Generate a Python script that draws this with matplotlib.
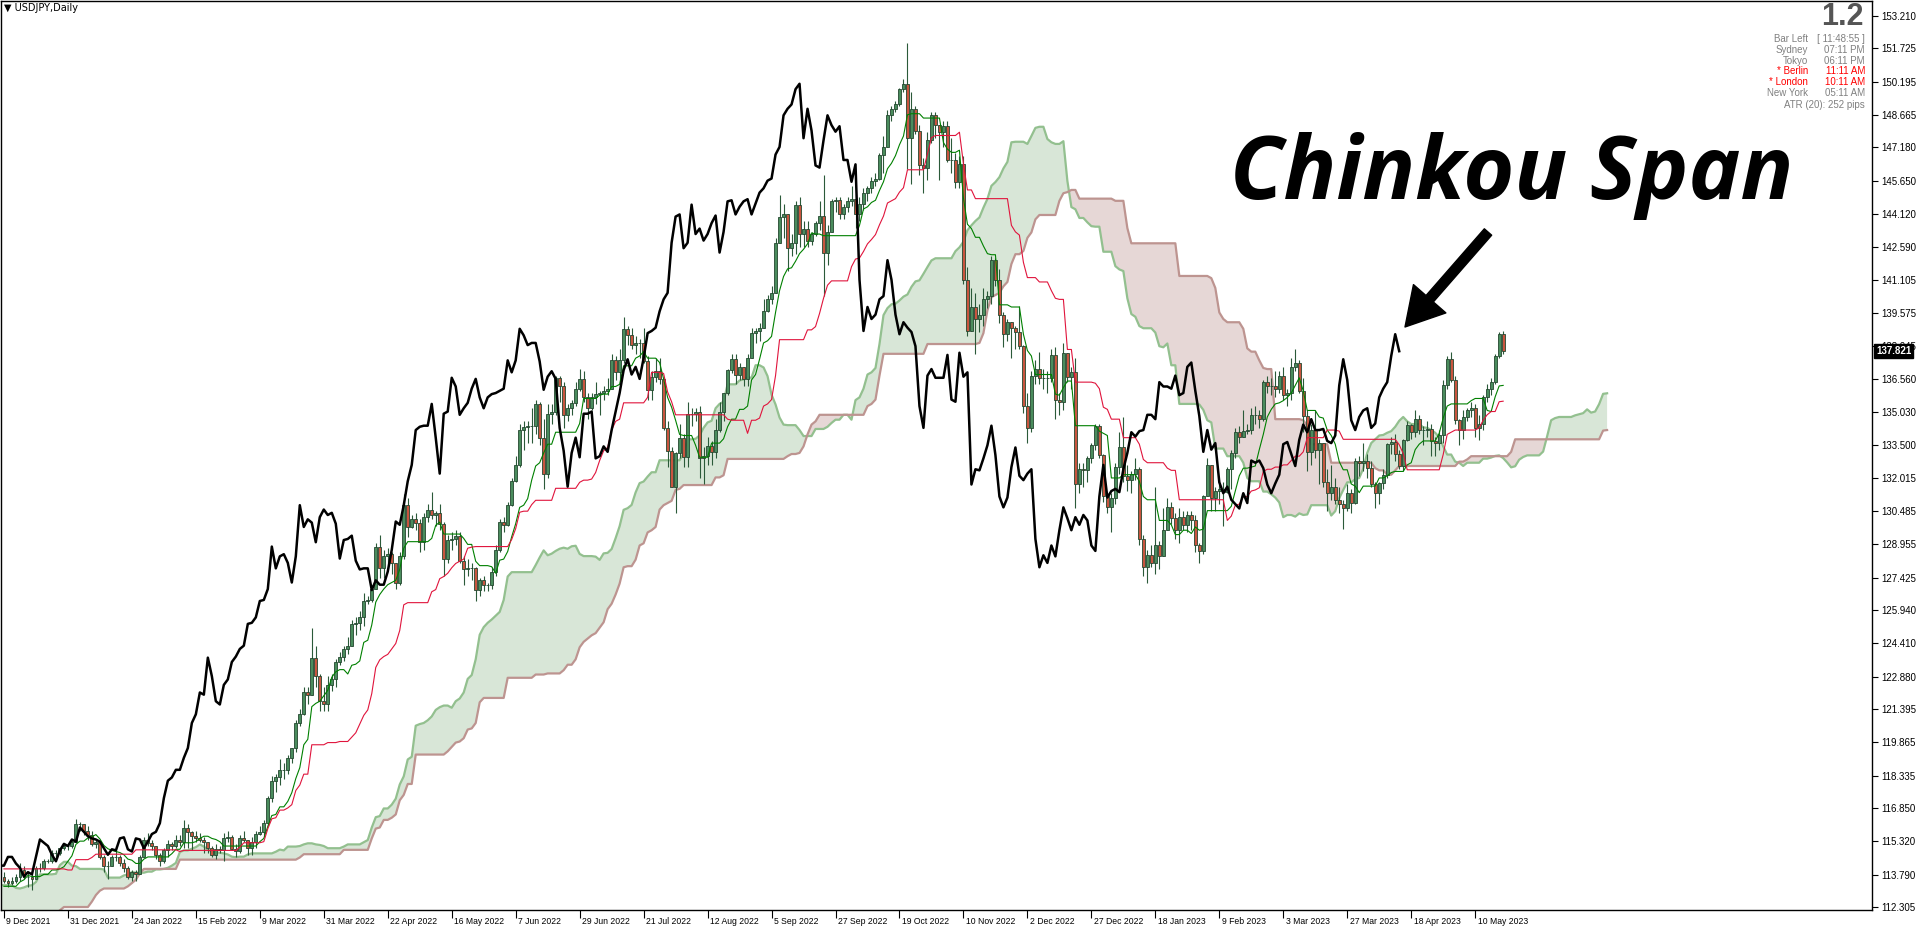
import numpy as np
import pandas as pd
import matplotlib
matplotlib.use("Agg")
import matplotlib.pyplot as plt
import matplotlib.transforms as mtransforms

# USDJPY daily, bars before the visible window (23 Aug 2021 - 8 Dec 2021), needed for the cloud
hist_close = [109.7, 109.7, 110.0, 110.1, 109.8, 109.9, 110.0,
              110.0, 109.9, 109.7, 109.8, 110.3, 110.2, 109.7, 109.9, 110.0, 109.7, 109.4,
              109.7, 109.9, 109.4, 109.2, 109.8, 110.3, 110.7, 111.0, 111.5, 112.0, 111.3,
              111.0, 110.9, 111.4, 111.4, 111.6, 112.2, 113.3, 113.6, 113.2, 113.7, 114.2,
              114.3, 114.4, 114.3, 114.0, 113.5, 113.7, 114.1, 113.8, 113.6, 114.0,
              114.0, 113.9, 114.1, 113.7, 113.4, 112.9, 112.9, 113.9, 114.1, 113.9, 114.1,
              114.8, 114.1, 114.3, 114.0, 114.8, 115.1, 115.4, 115.4, 113.4, 113.6, 113.2,
              113.0, 113.2, 112.8, 113.5, 113.5, 113.7]
hist_high = [110.0, 109.9, 110.1, 110.2, 110.3, 110.0, 110.2,
             110.3, 110.1, 110.0, 109.9, 110.4, 110.4, 110.2, 110.0, 110.1, 110.2, 109.8,
             109.8, 110.1, 110.0, 109.6, 109.9, 110.4, 110.8, 111.1, 111.7, 112.1, 112.1,
             111.5, 111.1, 111.5, 111.8, 111.8, 112.3, 113.4, 113.8, 113.7, 113.8, 114.3,
             114.5, 114.5, 114.7, 114.4, 114.2, 113.9, 114.3, 114.2, 113.9, 114.0,
             114.4, 114.2, 114.2, 114.2, 113.9, 113.5, 113.1, 114.0, 114.2, 114.2, 114.2,
             114.9, 114.9, 114.5, 114.5, 114.9, 115.2, 115.5, 115.5, 115.4, 113.9, 113.9,
             113.4, 113.3, 113.4, 113.6, 113.8, 113.9]
hist_low = [109.4, 109.5, 109.6, 109.8, 109.6, 109.6, 109.7,
            109.8, 109.7, 109.6, 109.6, 109.8, 110.0, 109.6, 109.6, 109.8, 109.6, 109.1,
            109.3, 109.7, 109.1, 109.1, 109.1, 109.6, 110.2, 110.6, 110.9, 111.4, 111.2,
            110.8, 110.8, 110.8, 111.0, 111.3, 111.6, 112.2, 113.2, 113.1, 113.1, 113.7,
            113.9, 114.1, 114.0, 113.7, 113.4, 113.4, 113.6, 113.5, 113.3, 113.4,
            113.9, 113.6, 113.7, 113.6, 113.3, 112.8, 112.7, 112.8, 113.8, 113.8, 113.8,
            114.0, 114.0, 113.9, 113.8, 113.9, 114.8, 115.0, 115.3, 113.1, 113.0, 112.6,
            112.8, 112.7, 112.6, 112.8, 113.3, 113.3]

# visible bars, 9 Dec 2021 - 19 May 2023 (one line = 16 bars = one date label)
close = [113.5, 113.4, 113.5, 113.7, 114.0, 113.7, 113.7, 113.6, 114.1, 114.1, 114.4, 114.4, 114.8, 114.8, 115.0, 115.1,
         115.1, 115.3, 116.1, 116.1, 115.8, 115.6, 115.2, 115.3, 114.6, 114.2, 114.2, 114.6, 114.6, 114.3, 114.1, 113.7,
         113.9, 113.8, 114.6, 115.4, 115.25, 115.1, 114.7, 114.4, 114.9, 115.2, 115.1, 115.4, 115.3, 115.95, 115.75, 115.55,
         115.45, 115.4, 115.3, 115.0, 114.7, 114.95, 114.9, 115.45, 115.5, 114.95, 114.85, 115.45, 115.4, 115.0, 115.3, 115.65,
         115.75, 116.15, 117.3, 118.1, 118.25, 118.6, 118.6, 119.15, 119.6, 120.75, 121.15, 122.15, 122.05, 123.75, 122.9, 121.75,
         121.6, 122.5, 122.75, 123.55, 123.8, 124.15, 124.3, 125.3, 125.35, 125.6, 126.35, 126.4, 126.9, 128.85, 127.85, 128.4,
         128.5, 128.1, 127.2, 128.4, 130.75, 129.75, 130.1, 129.95, 129.05, 130.2, 130.55, 130.3, 130.4, 129.9, 128.3, 129.15,
         129.2, 129.35, 128.2, 127.8, 127.85, 127.85, 126.85, 127.3, 127.1, 127.1, 127.7, 128.7, 130.0, 129.85, 130.75, 131.85,
         132.6, 134.2, 134.35, 134.4, 134.4, 135.4, 133.85, 132.2, 134.95, 135.05, 136.6, 136.2, 134.9, 135.2, 135.45, 136.1,
         136.55, 135.7, 135.2, 135.7, 135.85, 135.9, 136.0, 136.1, 137.4, 136.85, 137.4, 138.85, 138.55, 138.1, 138.2, 138.2,
         137.35, 136.05, 136.65, 136.9, 136.55, 134.3, 133.25, 131.6, 133.15, 133.85, 132.95, 134.95, 134.95, 135.05, 132.9, 133.0,
         133.45, 133.2, 134.2, 135.05, 135.9, 136.95, 137.45, 136.75, 137.1, 136.55, 137.5, 138.65, 138.75, 138.9, 139.65, 140.2,
         140.5, 142.8, 144.0, 144.1, 142.55, 142.8, 144.55, 143.2, 143.45, 142.9, 143.2, 143.7, 144.05, 142.35, 143.3, 144.7,
         144.75, 144.1, 144.45, 144.7, 144.8, 144.1, 144.6, 145.1, 145.3, 145.65, 145.75, 146.85, 147.2, 148.65, 148.95, 149.15,
         149.85, 150.1, 147.6, 148.95, 147.95, 146.35, 146.25, 147.5, 148.65, 148.2, 147.9, 148.15, 146.6, 146.6, 145.6, 146.4,
         141.1, 138.75, 139.85, 139.3, 139.5, 140.2, 140.35, 142.0, 141.1, 139.5, 138.6, 139.15, 138.9, 138.7, 138.05, 135.3,
         134.3, 136.7, 137.0, 136.6, 136.6, 136.6, 137.65, 135.6, 135.5, 137.75, 136.65, 136.85, 131.7, 132.4, 132.35, 132.9,
         133.5, 134.4, 133.05, 131.15, 130.65, 131.1, 132.5, 133.4, 132.1, 131.9, 132.2, 132.4, 129.2, 127.9, 128.45, 128.1,
         128.9, 128.4, 129.6, 130.65, 130.15, 129.6, 130.2, 129.85, 130.3, 130.05, 128.9, 128.65, 131.15, 132.6, 131.1, 131.4,
         131.5, 131.35, 132.4, 133.15, 134.1, 133.9, 134.15, 134.2, 134.9, 134.9, 134.7, 136.4, 136.2, 136.2, 136.1, 136.7,
         135.8, 135.9, 137.1, 137.3, 136.0, 134.85, 133.2, 134.2, 133.3, 133.6, 131.8, 131.3, 131.6, 131.0, 130.8, 130.6,
         131.3, 130.85, 132.8, 132.7, 132.8, 132.45, 131.7, 131.3, 131.75, 132.15, 133.55, 133.65, 133.1, 132.55, 133.75, 134.45,
         134.1, 134.7, 134.2, 134.2, 134.25, 133.7, 133.6, 133.95, 136.25, 137.45, 136.5, 134.65, 134.2, 134.8, 135.1, 135.2,
         134.3, 134.5, 135.7, 136.1, 136.4, 137.6, 138.6, 137.821]
high = [113.9, 113.6, 113.7, 113.8, 114.3, 114.2, 113.9, 113.8, 114.2, 114.3, 114.5, 114.5, 114.9, 114.9, 115.0, 115.2,
        115.2, 115.4, 116.35, 116.2, 116.1, 116.0, 115.8, 115.4, 115.4, 114.7, 114.4, 114.7, 115.1, 114.7, 114.5, 114.2,
        114.0, 114.0, 114.7, 115.5, 115.7, 115.4, 115.1, 114.8, 115.0, 115.4, 115.3, 115.6, 115.6, 116.3, 116.1, 115.8,
        115.8, 115.7, 115.5, 115.3, 115.1, 115.2, 115.1, 115.7, 115.8, 115.6, 115.2, 115.6, 115.8, 115.4, 115.5, 115.8,
        116.0, 116.3, 117.4, 118.3, 118.4, 119.1, 118.9, 119.3, 119.6, 120.9, 121.4, 122.4, 122.4, 125.1, 124.3, 123.0,
        122.4, 122.9, 123.0, 123.7, 124.0, 124.3, 124.7, 125.5, 125.6, 125.9, 126.7, 126.6, 127.1, 129.0, 129.4, 128.7,
        128.8, 128.6, 128.1, 128.6, 131.25, 131.1, 130.3, 130.4, 130.1, 130.4, 130.8, 131.35, 130.5, 130.8, 130.0, 129.4,
        129.5, 129.6, 129.5, 128.4, 128.3, 128.1, 127.9, 127.4, 127.5, 127.2, 127.9, 128.9, 130.1, 130.2, 130.9, 132.0,
        133.0, 134.5, 134.6, 134.6, 135.2, 135.6, 135.5, 134.7, 135.4, 135.4, 136.7, 136.7, 136.4, 135.4, 135.6, 136.4,
        137.0, 136.9, 135.9, 135.9, 136.4, 136.0, 136.2, 136.6, 137.7, 137.6, 137.9, 139.4, 139.0, 138.9, 138.5, 138.4,
        138.9, 137.6, 136.9, 137.5, 137.5, 136.6, 134.6, 133.4, 133.2, 134.5, 134.0, 135.5, 135.2, 135.2, 135.3, 133.4,
        133.9, 133.7, 134.7, 135.5, 135.9, 137.0, 137.7, 137.7, 137.3, 137.1, 137.7, 138.9, 138.9, 139.1, 140.2, 140.4,
        140.8, 143.0, 145.0, 144.6, 144.0, 143.2, 144.7, 144.9, 143.8, 143.8, 143.3, 143.8, 144.7, 145.9, 143.6, 144.8,
        144.9, 144.9, 144.6, 144.9, 145.4, 145.0, 144.9, 145.3, 145.4, 145.8, 146.0, 146.9, 147.7, 148.9, 149.1, 149.3,
        149.9, 150.3, 151.95, 149.7, 149.1, 148.2, 146.7, 147.9, 148.8, 148.8, 148.1, 148.4, 148.4, 147.6, 146.9, 146.8,
        146.8, 141.7, 140.7, 140.5, 140.0, 140.7, 140.6, 142.2, 142.1, 141.6, 139.6, 139.3, 139.1, 139.0, 139.9, 138.1,
        135.9, 136.9, 137.4, 137.8, 137.0, 136.9, 137.9, 138.0, 135.9, 138.2, 137.7, 137.1, 137.5, 132.7, 132.7, 133.0,
        133.6, 134.5, 134.5, 133.1, 131.2, 131.3, 132.7, 134.1, 134.8, 132.6, 132.3, 132.9, 132.5, 129.4, 128.7, 128.9,
        131.6, 129.1, 130.6, 131.1, 130.9, 130.4, 130.6, 130.5, 130.5, 130.5, 130.3, 129.0, 131.2, 132.9, 132.6, 131.6,
        131.9, 131.8, 132.5, 133.3, 134.3, 134.4, 135.1, 134.5, 135.2, 135.3, 135.1, 136.5, 136.7, 136.6, 136.9, 136.9,
        137.1, 136.1, 137.5, 137.9, 137.4, 136.6, 135.1, 134.5, 135.1, 133.8, 133.6, 132.4, 132.6, 132.0, 131.6, 131.0,
        131.7, 131.5, 132.9, 133.0, 133.6, 133.1, 132.8, 131.8, 131.8, 132.4, 133.6, 133.9, 134.0, 133.3, 133.8, 134.6,
        134.5, 135.1, 134.9, 134.4, 134.6, 134.5, 133.9, 134.2, 136.5, 137.6, 137.8, 136.7, 134.7, 135.1, 135.2, 135.5,
        135.4, 134.9, 135.8, 136.3, 136.6, 137.7, 138.7, 138.75]
low = [113.4, 113.2, 113.3, 113.4, 113.5, 113.6, 113.2, 113.1, 113.6, 113.9, 114.0, 114.3, 114.3, 114.6, 114.7, 114.9,
       114.9, 115.0, 115.3, 115.8, 115.6, 115.4, 115.1, 115.0, 114.5, 113.9, 113.6, 114.2, 114.4, 114.2, 113.9, 113.6,
       113.5, 113.5, 113.8, 114.6, 115.1, 114.9, 114.5, 114.2, 114.3, 114.6, 114.9, 115.0, 115.1, 115.0, 115.0, 114.9,
       115.3, 115.3, 114.8, 114.8, 114.6, 114.5, 114.8, 114.4, 115.3, 114.9, 114.6, 114.8, 115.3, 114.7, 114.7, 115.0,
       115.6, 115.5, 116.0, 117.1, 117.6, 117.9, 118.2, 118.4, 118.9, 119.4, 120.6, 121.1, 121.6, 122.1, 122.4, 121.3,
       121.3, 121.3, 122.2, 122.4, 123.4, 123.6, 123.9, 124.4, 124.8, 125.0, 125.2, 126.2, 126.3, 126.9, 127.4, 127.4,
       127.8, 127.6, 126.9, 127.1, 128.3, 129.3, 129.7, 129.6, 128.6, 128.7, 130.0, 130.1, 129.8, 129.6, 127.5, 128.1,
       128.7, 128.9, 128.1, 127.1, 127.5, 127.3, 126.35, 126.6, 126.8, 126.8, 126.9, 127.5, 128.6, 129.5, 129.8, 130.7,
       131.8, 132.5, 133.3, 133.6, 133.6, 134.0, 133.5, 131.5, 132.0, 134.5, 134.9, 135.5, 134.3, 134.6, 134.9, 135.3,
       136.0, 135.5, 134.7, 135.1, 135.4, 134.9, 135.6, 135.8, 136.2, 136.5, 136.4, 137.3, 138.1, 137.9, 137.7, 137.5,
       137.3, 135.6, 135.6, 136.4, 136.3, 134.2, 132.5, 131.6, 130.4, 132.9, 132.5, 132.5, 134.4, 134.6, 132.0, 131.7,
       132.6, 132.6, 132.9, 134.1, 134.6, 135.8, 136.8, 136.3, 136.5, 136.2, 136.2, 137.5, 138.2, 138.3, 138.9, 139.6,
       140.0, 140.5, 142.8, 143.0, 141.5, 142.2, 142.3, 142.6, 142.6, 142.6, 142.7, 143.1, 143.4, 140.35, 141.8, 143.3,
       144.2, 143.9, 143.9, 144.2, 144.5, 143.5, 143.8, 144.3, 144.7, 145.1, 145.4, 145.7, 146.0, 147.2, 148.4, 148.8,
       149.1, 149.7, 146.2, 145.5, 147.8, 145.9, 145.1, 145.7, 147.4, 147.6, 145.7, 147.2, 146.5, 146.0, 145.3, 145.3,
       140.9, 138.5, 138.8, 137.7, 138.7, 139.0, 139.8, 140.0, 140.8, 139.1, 138.0, 138.3, 137.5, 137.9, 137.9, 135.0,
       133.6, 134.1, 136.3, 136.3, 136.1, 135.9, 136.4, 134.7, 134.9, 135.1, 136.4, 136.1, 130.6, 131.3, 131.6, 131.8,
       132.7, 133.3, 132.9, 130.9, 130.4, 129.5, 130.8, 132.2, 131.8, 131.4, 131.3, 131.9, 128.9, 127.5, 127.2, 127.9,
       127.6, 127.8, 128.4, 129.6, 129.9, 129.2, 129.0, 129.6, 129.5, 129.6, 128.6, 128.1, 128.5, 131.3, 130.5, 130.5,
       130.8, 129.8, 131.3, 131.5, 132.9, 133.6, 133.9, 134.0, 134.0, 134.5, 134.3, 134.6, 135.9, 135.8, 135.7, 135.9,
       135.6, 135.3, 135.6, 136.9, 135.9, 134.1, 132.3, 132.6, 132.9, 131.7, 131.6, 130.5, 131.0, 130.8, 130.4, 129.65,
       130.5, 130.4, 130.8, 132.1, 132.3, 132.0, 131.6, 130.6, 130.8, 131.5, 132.0, 133.1, 132.8, 132.4, 132.3, 133.7,
       133.8, 133.9, 134.0, 133.5, 133.9, 133.0, 133.0, 133.3, 133.6, 136.1, 136.4, 134.5, 133.5, 133.8, 134.6, 134.8,
       133.9, 133.75, 134.2, 135.5, 135.8, 136.3, 137.5, 137.7]

date_labels = ["9 Dec 2021", "31 Dec 2021", "24 Jan 2022", "15 Feb 2022", "9 Mar 2022", "31 Mar 2022",
               "22 Apr 2022", "16 May 2022", "7 Jun 2022", "29 Jun 2022", "21 Jul 2022", "12 Aug 2022",
               "5 Sep 2022", "27 Sep 2022", "19 Oct 2022", "10 Nov 2022", "2 Dec 2022", "27 Dec 2022",
               "18 Jan 2023", "9 Feb 2023", "3 Mar 2023", "27 Mar 2023", "18 Apr 2023", "10 May 2023"]
price_ticks = [153.210, 151.725, 150.195, 148.665, 147.180, 145.650, 144.120, 142.590, 141.105,
               139.575, 138.045, 136.560, 135.030, 133.500, 132.015, 130.485, 128.955, 127.425,
               125.940, 124.410, 122.880, 121.395, 119.865, 118.335, 116.850, 115.320, 113.790, 112.305]
last_price = 137.821

# ichimoku (9, 26, 52)
H = pd.Series(hist_high + high)
L = pd.Series(hist_low + low)
C = pd.Series(hist_close + close)
n_hist = len(hist_close)
shift = 26

def midline(n):
    return (H.rolling(n).max() + L.rolling(n).min()) / 2

tenkan = midline(9)
kijun = midline(26)
span_a = ((tenkan + kijun) / 2).values
span_b = midline(52).values
x_all = np.arange(len(C)) - n_hist

W, Hpx = 1916, 933
fig = plt.figure(figsize=(W / 100, Hpx / 100), dpi=100)
ax = fig.add_axes([0.0005, 23 / Hpx, 1871 / W, 909 / Hpx])

# cloud
xc = x_all + shift
m = xc >= -1
a, b = span_a[m], span_b[m]
ax.fill_between(xc[m], a, b, where=a >= b, interpolate=True, color="#d8e6d7", lw=0, zorder=1)
ax.fill_between(xc[m], a, b, where=a < b, interpolate=True, color="#e6d7d6", lw=0, zorder=1)
ax.plot(xc[m], a, color="#93c08f", lw=1.6, zorder=2)
ax.plot(xc[m], b, color="#bd9490", lw=1.6, zorder=2)

# candles
vis = x_all >= 0
xv = x_all[vis]
o = C.shift(1).values[vis]
c = C.values[vis]
h = np.maximum(H.values[vis], np.maximum(o, c))
l = np.minimum(L.values[vis], np.minimum(o, c))
up = c >= o
ax.vlines(xv, l, h, color="#2b5a39", lw=0.8, zorder=3)
ax.bar(xv[up], (c - o)[up], bottom=o[up], width=0.72, color="#4a8c5d", edgecolor="#23472f", lw=0.6, zorder=4)
ax.bar(xv[~up], (o - c)[~up], bottom=c[~up], width=0.72, color="#c8553f", edgecolor="#23472f", lw=0.6, zorder=4)

# tenkan / kijun
ax.plot(xv, tenkan.values[vis], color="#008000", lw=0.8, zorder=5)
ax.plot(xv, kijun.values[vis], color="#e0143c", lw=0.8, zorder=5)

# chinkou span
xs = x_all - shift
mc = xs >= -1
ax.plot(xs[mc], C.values[mc], color="black", lw=1.8, zorder=6)

ax.set_xlim(-0.75, 467.25)
ax.set_ylim(112.163, 153.90)

ax.yaxis.tick_right()
ax.set_yticks(price_ticks)
ax.set_yticklabels([f"{v:.3f}" for v in price_ticks], family="Liberation Sans", fontsize=7)
ax.tick_params(axis="y", direction="out", length=4, width=0.8, pad=3)
ax.set_xticks(np.arange(len(date_labels)) * 16)
ax.set_xticklabels(date_labels, family="Liberation Sans", fontsize=6.2)
ax.tick_params(axis="x", direction="out", length=6, width=0.8, pad=-1)
offset = mtransforms.ScaledTranslation(0.025, 0, fig.dpi_scale_trans)
for lbl in ax.get_xticklabels():
    lbl.set_horizontalalignment("left")
    lbl.set_transform(lbl.get_transform() + offset)
for s in ax.spines.values():
    s.set_color("black")
    s.set_linewidth(1)

ax.annotate(f"{last_price:.3f}", xy=(1, last_price), xycoords=("axes fraction", "data"),
            xytext=(3, 0), textcoords="offset points", ha="left", va="center",
            color="white", fontsize=7, family="Liberation Sans", fontweight="bold",
            bbox=dict(boxstyle="square,pad=0.2", fc="black", ec="black"), zorder=10)

# header texts
fig.text(4 / W, 1 - 8 / Hpx, "\u25bc USDJPY,Daily", fontsize=7, family="DejaVu Sans", va="center")
fig.text(1864 / W, 1 - 17 / Hpx, "1.2", fontsize=22, fontweight="bold", color="#555555",
         family="Liberation Sans", ha="right", va="center")
rows = [("Bar Left", "[ 11:48:55 ]", "#808080"), ("Sydney", "07:11 PM", "#808080"),
        ("Tokyo", "06:11 PM", "#808080"), ("* Berlin", "11:11 AM", "#ff0000"),
        ("* London", "10:11 AM", "#ff0000"), ("New York", "05:11 AM", "#808080")]
for k, (name, val, col) in enumerate(rows):
    yy = 1 - (39 + 10.8 * k) / Hpx
    fig.text(1808 / W, yy, name, fontsize=7, color=col, family="Liberation Sans", ha="right", va="center")
    fig.text(1865 / W, yy, val, fontsize=7, color=col, family="Liberation Sans", ha="right", va="center")
fig.text(1865 / W, 1 - 105 / Hpx, "ATR (20): 252 pips", fontsize=7, color="#808080",
         family="Liberation Sans", ha="right", va="center")

# callout
fig.text(1512 / W, 1 - 199 / Hpx, "Chinkou Span", fontsize=63, fontweight="bold", style="italic",
         family=["Open Sans", "Noto Sans", "DejaVu Sans"], ha="center", va="baseline")
ax.annotate("", xy=(1405, Hpx - 327), xycoords="figure pixels",
            xytext=(1488, Hpx - 232), textcoords="figure pixels",
            arrowprops=dict(facecolor="black", edgecolor="black", width=7, headwidth=31,
                            headlength=27, shrink=0))

fig.savefig("out.png", dpi=100)
